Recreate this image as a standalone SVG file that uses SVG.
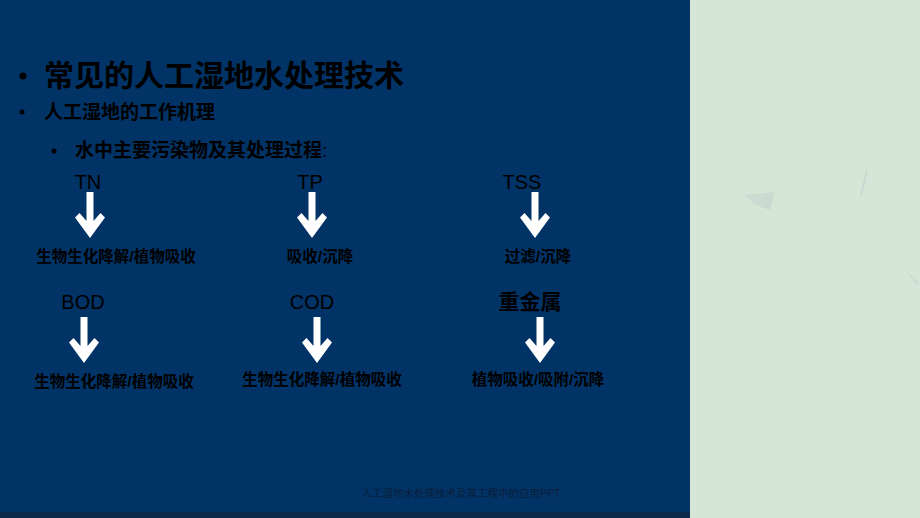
<svg xmlns="http://www.w3.org/2000/svg" width="920" height="518" viewBox="0 0 920 518">
<defs>
<style>
.t{font-family:"Liberation Sans","Noto Sans CJK SC",sans-serif;fill:#000}
.b{font-weight:bold}
.lbl{font-size:15.5px;font-weight:bold}
.en{font-size:20px}
.arr{fill:#fff}
</style>
<path id="ar" class="arr" d="M-3.5,0 H3.5 V29 L10.5,21 L15,25.5 L0,46 L-15,25.5 L-10.5,21 L-3.5,29 Z"/>
</defs>
<rect x="0" y="0" width="920" height="518" fill="#d6e6d6"/>
<g fill="#c3d3cf" opacity="0.6">
<path d="M860,195 L866,170 L868,171 L862,196 Z"/>
<path d="M905,270 L919,282 L917,285 Z"/>
<path d="M745,195 L775,192 L770,210 L755,205 Z"/>
</g>
<rect x="0" y="0" width="690" height="518" fill="#013366"/>
<rect x="0" y="512" width="690" height="6" fill="#0d2a4a"/>
<g id="title">
<circle cx="23" cy="76" r="3.5" fill="#000"/>
<text class="t b" x="44" y="86" font-size="30">常见的人工湿地水处理技术</text>
</g>
<g id="sub1">
<circle cx="22" cy="112" r="2.5" fill="#000"/>
<text class="t b" x="44" y="119" font-size="19">人工湿地的工作机理</text>
</g>
<g id="sub2">
<circle cx="54" cy="151" r="2.5" fill="#000"/>
<text class="t b" x="75" y="157" font-size="19">水中主要污染物及其处理过程<tspan font-weight="normal">:</tspan></text>
</g>
<g id="TN"><text class="t en" x="88" y="189" text-anchor="middle">TN</text></g>
<g id="TN-out"><text class="t lbl" x="116" y="262" text-anchor="middle">生物生化降解/植物吸收</text></g>
<g id="TP"><text class="t en" x="310" y="189" text-anchor="middle">TP</text></g>
<g id="TP-out"><text class="t lbl" x="320" y="262" text-anchor="middle">吸收/沉降</text></g>
<g id="TSS"><text class="t en" x="522" y="189" text-anchor="middle">TSS</text></g>
<g id="TSS-out"><text class="t lbl" x="538" y="262" text-anchor="middle">过滤/沉降</text></g>
<g id="BOD"><text class="t en" x="83" y="309" text-anchor="middle">BOD</text></g>
<g id="BOD-out"><text class="t lbl" x="114" y="387" text-anchor="middle">生物生化降解/植物吸收</text></g>
<g id="COD"><text class="t en" x="312" y="309" text-anchor="middle">COD</text></g>
<g id="COD-out"><text class="t lbl" x="322" y="385" text-anchor="middle">生物生化降解/植物吸收</text></g>
<g id="metal"><text class="t b" x="530" y="309" font-size="21" text-anchor="middle">重金属</text></g>
<g id="metal-out"><text class="t lbl" x="538" y="385" text-anchor="middle">植物吸收/吸附/沉降</text></g>
<g id="connectors">
<use href="#ar" x="90" y="192"/>
<use href="#ar" x="312" y="192"/>
<use href="#ar" x="535" y="192"/>
<use href="#ar" x="84" y="317"/>
<use href="#ar" x="317" y="317"/>
<use href="#ar" x="540" y="317"/>
</g>
<g id="footer"><text class="t" x="461" y="497" font-size="10.5" text-anchor="middle" style="fill:#0a1e3a">人工湿地水处理技术及其工程中的应用PPT</text></g>
</svg>
